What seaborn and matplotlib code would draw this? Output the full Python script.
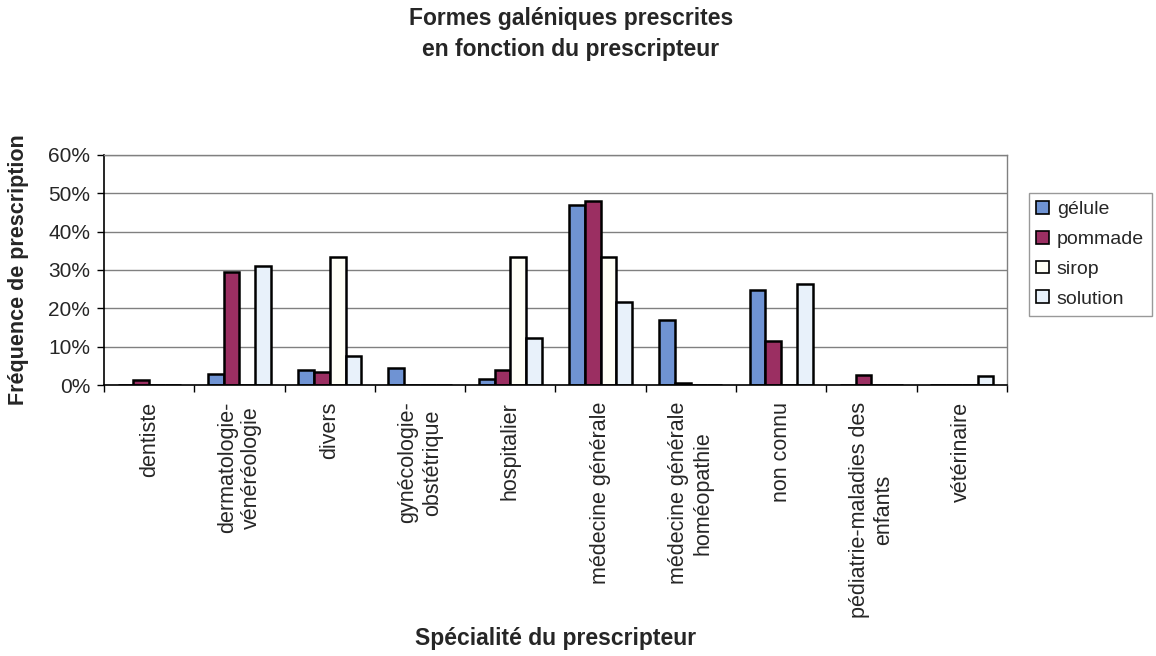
import numpy as np
import pandas as pd
import matplotlib
matplotlib.use("Agg")
import matplotlib.pyplot as plt
import seaborn as sns
from matplotlib.ticker import FixedLocator, PercentFormatter

# Data (percent of prescriptions)
specialites = [
    "dentiste",
    "dermatologie-\nvénéréologie",
    "divers",
    "gynécologie-\nobstétrique",
    "hospitalier",
    "médecine générale",
    "médecine générale\nhoméopathie",
    "non connu",
    "pédiatrie-maladies des\nenfants",
    "vétérinaire",
]
formes = ["gélule", "pommade", "sirop", "solution"]
gelule = [0.0, 2.8, 3.8, 4.4, 1.7, 47.0, 17.0, 24.7, 0.0, 0.0]
pommade = [1.2, 29.5, 3.3, 0.0, 3.8, 48.0, 0.5, 11.6, 2.5, 0.0]
sirop = [0.0, 0.0, 33.5, 0.0, 33.4, 33.4, 0.0, 0.0, 0.0, 0.0]
solution = [0.0, 31.0, 7.5, 0.0, 12.2, 21.6, 0.0, 26.3, 0.0, 2.4]

couleurs = ["#6f93d3", "#9b2f62", "#fffff6", "#e8f1fa"]

df = pd.DataFrame({"specialite": specialites,
                   "gélule": gelule, "pommade": pommade,
                   "sirop": sirop, "solution": solution})
df_long = df.melt(id_vars="specialite", var_name="forme", value_name="freq")

sns.set_style("white")
plt.rcParams["font.family"] = ["Liberation Sans", "DejaVu Sans"]

fig = plt.figure(figsize=(11.56, 6.56), dpi=100)
ax = fig.add_axes([0.09, 0.413, 0.781, 0.351])

sns.barplot(data=df_long, x="specialite", y="freq", hue="forme",
            hue_order=formes, palette=couleurs, saturation=1, width=0.7,
            edgecolor="black", linewidth=1.8, ax=ax, legend=True)

ax.set_ylim(0, 60)
ax.set_xlim(-0.5, len(specialites) - 0.5)
ax.yaxis.set_major_locator(FixedLocator(np.arange(0, 61, 10)))
ax.yaxis.set_major_formatter(PercentFormatter(decimals=0))
ax.yaxis.grid(True, color="#808080", linewidth=1)
ax.set_axisbelow(True)

# ticks between categories, labels under each category
ax.set_xticks(np.arange(len(specialites)))
ax.set_xticklabels(specialites, rotation=90, ha="center", va="top",
                   multialignment="center", fontsize=15.5)
ax.set_xticks(np.arange(-0.5, len(specialites), 1), minor=True)
ax.tick_params(axis="x", which="major", length=0, pad=12)
ax.tick_params(axis="x", which="minor", length=5, width=1, color="black",
               direction="out", bottom=True)
ax.tick_params(axis="y", length=5, width=1, color="black", direction="out",
               left=True, labelsize=15, pad=5)

for side in ["top", "right"]:
    ax.spines[side].set_color("#808080")
    ax.spines[side].set_linewidth(1)
for side in ["left", "bottom"]:
    ax.spines[side].set_color("black")
    ax.spines[side].set_linewidth(1.2)

# x label centred on the plot area, near the bottom of the figure
ax.set_xlabel("")
ax.text(0.5, 1 - 638 / 656, "Spécialité du prescripteur", ha="center",
        va="center", fontsize=16.5, fontweight="bold",
        transform=matplotlib.transforms.blended_transform_factory(ax.transAxes, fig.transFigure))
ax.set_ylabel("Fréquence de prescription", fontsize=15.5, fontweight="bold",
              labelpad=14)

fig.text(571 / 1156, 1 - 34 / 656, "Formes galéniques prescrites\nen fonction du prescripteur",
         ha="center", va="center", fontsize=16.5, fontweight="bold",
         linespacing=1.45)

leg = ax.legend(loc="upper left", bbox_to_anchor=(1.024, 0.835), frameon=True,
                fancybox=False, edgecolor="#808080", fontsize=14,
                handlelength=0.65, handleheight=0.65, handletextpad=0.4,
                labelspacing=0.65, borderpad=0.4, borderaxespad=0)
leg.get_frame().set_linewidth(1)
for h in leg.legend_handles:
    h.set_linewidth(1.2)

fig.savefig("out.png", dpi=100)
